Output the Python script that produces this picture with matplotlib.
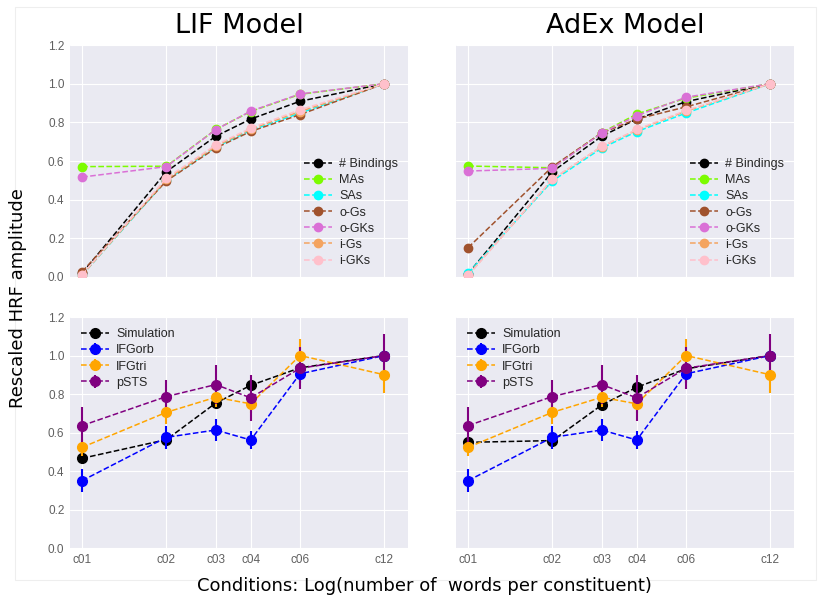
import numpy as np
import matplotlib
matplotlib.use("Agg")
import matplotlib.pyplot as plt
from matplotlib.patches import Rectangle

# conditions (words per constituent)
cond_n = [1, 2, 3, 4, 6, 12]
cond_labels = ['c01', 'c02', 'c03', 'c04', 'c06', 'c12']

# top row: rescaled model amplitudes
top_names = ['# Bindings', 'MAs', 'SAs', 'o-Gs', 'o-GKs', 'i-Gs', 'i-GKs']
top_colors = ['black', 'lawngreen', 'cyan', 'sienna', 'orchid', 'sandybrown', 'pink']

lif_bind = [0.02, 0.545, 0.728, 0.817, 0.909, 1.0]
lif_mas = [0.571, 0.573, 0.763, 0.856, 0.945, 1.0]
lif_sas = [0.01, 0.50, 0.672, 0.758, 0.848, 1.0]
lif_ogs = [0.028, 0.497, 0.667, 0.753, 0.840, 1.0]
lif_ogks = [0.517, 0.571, 0.762, 0.858, 0.947, 1.0]
lif_igs = [0.01, 0.505, 0.676, 0.765, 0.856, 1.0]
lif_igks = [0.012, 0.512, 0.683, 0.770, 0.865, 1.0]

adex_bind = [0.017, 0.545, 0.728, 0.817, 0.907, 1.0]
adex_mas = [0.574, 0.565, 0.747, 0.843, 0.925, 1.0]
adex_sas = [0.02, 0.497, 0.667, 0.752, 0.848, 1.0]
adex_ogs = [0.152, 0.571, 0.745, 0.817, 0.880, 1.0]
adex_ogks = [0.548, 0.562, 0.745, 0.834, 0.930, 1.0]
adex_igs = [0.01, 0.505, 0.675, 0.760, 0.858, 1.0]
adex_igks = [0.008, 0.507, 0.676, 0.763, 0.862, 1.0]

lif_top = [lif_bind, lif_mas, lif_sas, lif_ogs, lif_ogks, lif_igs, lif_igks]
adex_top = [adex_bind, adex_mas, adex_sas, adex_ogs, adex_ogks, adex_igs, adex_igks]

# bottom row: simulation vs fMRI ROIs
lif_sim = [0.466, 0.563, 0.753, 0.845, 0.936, 1.0]
adex_sim = [0.549, 0.558, 0.743, 0.835, 0.931, 1.0]

ifgorb = [0.35, 0.575, 0.613, 0.561, 0.905, 1.0]
ifgorb_err = [0.061, 0.06, 0.058, 0.048, 0.05, 0.03]
ifgtri = [0.523, 0.705, 0.783, 0.749, 1.0, 0.90]
ifgtri_err = [0.045, 0.06, 0.05, 0.05, 0.087, 0.094]
psts = [0.636, 0.787, 0.849, 0.78, 0.934, 1.0]
psts_err = [0.099, 0.087, 0.10, 0.12, 0.11, 0.11]

roi_names = ['IFGorb', 'IFGtri', 'pSTS']
roi_colors = ['blue', 'orange', 'purple']

plt.style.use('seaborn-v0_8-darkgrid')
plt.rcParams['font.family'] = ['Liberation Sans', 'DejaVu Sans']

x = np.log(cond_n)

fig = plt.figure(figsize=(8.28, 6.02), dpi=100)
fig.patches.append(Rectangle((0.018, 0.036), 0.968, 0.952, transform=fig.transFigure,
                             fill=False, edgecolor='#eeeeee', lw=0.8))

lefts = [0.0845, 0.5507]
w = 0.4083
ax_top = [fig.add_axes([l, 0.5399, w, 0.3853]) for l in lefts]
ax_bot = [fig.add_axes([l, 0.0897, w, 0.3837]) for l in lefts]

for ax, series in zip(ax_top, [lif_top, adex_top]):
    for name, col, y in zip(top_names, top_colors, series):
        ax.plot(x, y, 'o--', color=col, ms=6, lw=1.1, label=name)
    ax.legend(loc='lower right', fontsize=9, frameon=False, handlelength=2.2,
              handletextpad=0.6, borderaxespad=0.4, labelspacing=0.33)

roi_data = [(ifgorb, ifgorb_err), (ifgtri, ifgtri_err), (psts, psts_err)]
for ax, sim in zip(ax_bot, [lif_sim, adex_sim]):
    ax.plot(x, sim, 'o--', color='black', ms=7, lw=1.1, label='Simulation')
    for name, col, (y, e) in zip(roi_names, roi_colors, roi_data):
        ax.errorbar(x, y, yerr=e, fmt='o--', color=col, ms=7, lw=1.1,
                    elinewidth=1.5, capsize=0, label=name)
    ax.legend(loc='upper left', fontsize=9, frameon=False, handlelength=2.2,
              handletextpad=0.6, borderaxespad=0.5, labelspacing=0.33)

for ax in ax_top + ax_bot:
    ax.set_xlim(-0.1, 2.68)
    ax.set_ylim(0, 1.2)
    ax.set_xticks(x)
    ax.set_yticks(np.arange(0, 1.21, 0.2))
    ax.tick_params(labelsize=8.5, labelcolor='#606060', pad=4)

for ax in ax_top:
    ax.set_xticklabels([])
for ax in ax_bot:
    ax.set_xticklabels(cond_labels)
for ax in [ax_top[1], ax_bot[1]]:
    ax.set_yticklabels([])

ax_top[0].set_title('LIF Model', fontsize=19.5, family='DejaVu Sans', color='black', pad=9)
ax_top[1].set_title('AdEx Model', fontsize=19.5, family='DejaVu Sans', color='black', pad=9)

fig.text(0.022, 0.505, 'Rescaled HRF amplitude', rotation=90, ha='center', va='center',
         fontsize=13, family='DejaVu Sans', color='black')
fig.text(0.513, 0.026, 'Conditions: Log(number of  words per constituent)', ha='center',
         va='center', fontsize=13, family='DejaVu Sans', color='black')

plt.savefig('out.png', dpi=100)
